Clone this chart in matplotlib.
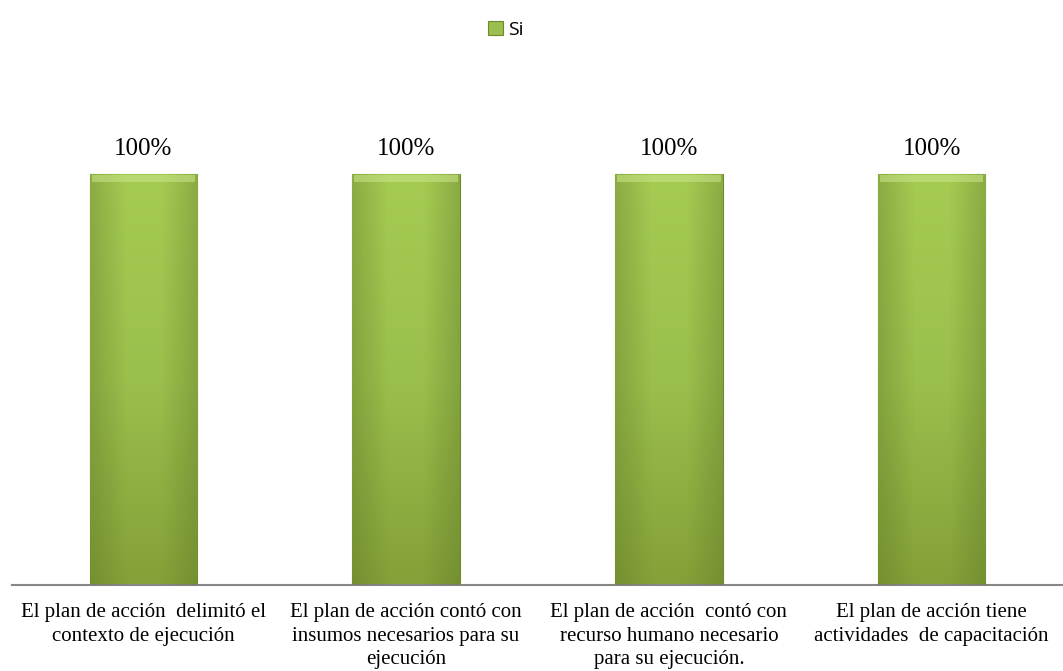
import matplotlib.pyplot as plt
import numpy as np
from matplotlib.colors import LinearSegmentedColormap

categories = [
    "El plan de acción  delimitó el\ncontexto de ejecución",
    "El plan de acción contó con\ninsumos necesarios para su\nejecución",
    "El plan de acción  contó con\nrecurso humano necesario\npara su ejecución.",
    "El plan de acción tiene\nactividades  de capacitación",
]
si = [1.0, 1.0, 1.0, 1.0]
labels = ["100%", "100%", "100%", "100%"]

fig = plt.figure(figsize=(10.63, 6.71), dpi=100)
ax = fig.add_axes([12 / 1063, 1 - 585 / 671, 1 - 12 / 1063, (585 - 92) / 671])

x = np.arange(len(categories))
bars = ax.bar(x, si, width=0.41, color='#9bbf4c', edgecolor='#6f8a2e',
              linewidth=0.8, label='Si', zorder=2)

# vertical gradient inside each bar, with a soft bevel look
cmap = LinearSegmentedColormap.from_list('g', ['#84a038', '#9bbf4c', '#a6cb53'])
grad = np.linspace(0, 1, 256).reshape(-1, 1)
side = LinearSegmentedColormap.from_list('s', [(0.35, 0.45, 0.15, 0.35),
                                               (0.35, 0.45, 0.15, 0.0),
                                               (0.35, 0.45, 0.15, 0.0),
                                               (0.35, 0.45, 0.15, 0.35)])
hgrad = np.linspace(0, 1, 64).reshape(1, -1)
for b in bars:
    x0, w, h = b.get_x(), b.get_width(), b.get_height()
    im = ax.imshow(grad, cmap=cmap, origin='lower', aspect='auto',
                   extent=(x0, x0 + w, 0, h), zorder=2.5)
    im.set_clip_path(b)
    sh = ax.imshow(hgrad, cmap=side, origin='lower', aspect='auto',
                   extent=(x0, x0 + w, 0, h), zorder=2.55)
    sh.set_clip_path(b)
    # light bevel at the top
    ax.fill_between([x0 + w * 0.02, x0 + w * 0.98], h * 0.982, h * 0.998,
                    color='#c6e386', alpha=0.6, zorder=2.6, linewidth=0)

for i, v in enumerate(si):
    ax.text(x[i], v + 0.035, labels[i], ha='center', va='bottom',
            fontsize=18, family='Liberation Serif', color='black')

ax.set_xlim(-0.5, len(categories) - 0.5)
ax.set_ylim(0, 1.2)
ax.set_yticks([])
ax.set_xticks(x)
ax.set_xticklabels(categories, fontsize=15, family='Liberation Serif',
                   linespacing=1.32)
ax.tick_params(axis='x', length=0, pad=13)
for s in ['top', 'right', 'left']:
    ax.spines[s].set_visible(False)
ax.spines['bottom'].set_color('#868686')
ax.spines['bottom'].set_linewidth(1.5)

fig.legend(handles=[bars], labels=['Si'], loc='upper center',
           bbox_to_anchor=(0.476, 0.995), frameon=False, handlelength=0.75,
           handleheight=0.75, handletextpad=0.3,
           prop={'family': 'Open Sans', 'size': 14})

fig.savefig('out.png', dpi=100)
